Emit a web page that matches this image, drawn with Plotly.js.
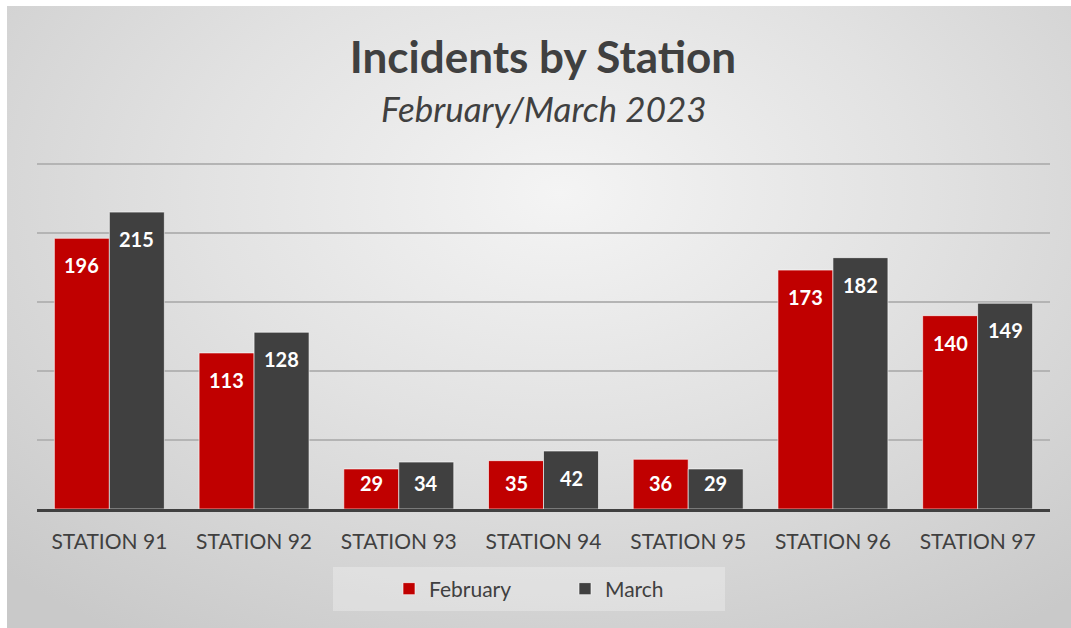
<!DOCTYPE html>
<html>
<head>
<meta charset="utf-8">
<script src="https://cdn.plot.ly/plotly-3.0.1.min.js"></script>
<style>
  html, body { margin: 0; padding: 0; background: #ffffff; }
  #wrap { position: absolute; left: 7px; top: 6px; width: 1064px; height: 622px;
          background: radial-gradient(ellipse 75% 85% at 52% 30%, #f4f4f4 0%, #e2e2e2 45%, #c9c9c9 100%); }
  #chart { position: absolute; left: -7px; top: -6px; width: 1071px; height: 628px; }
</style>
</head>
<body>
<div id="wrap"><div id="chart"></div></div>
<script>
const stations = ["STATION 91", "STATION 92", "STATION 93", "STATION 94", "STATION 95", "STATION 96", "STATION 97"];
const february = [196, 113, 29, 35, 36, 173, 140];
const march = [215, 128, 34, 42, 29, 182, 149];
const seriesNames = ["February", "March"];
const colors = ["#c00000", "#404040"];

const FONT = "Lato, 'Open Sans', sans-serif";
const yTop = 252;            // axis range top (gridline at 250 stays visible)
const plotBottom = 509;      // px
const plotTop = 161;         // px
const plotH = plotBottom - plotTop;
const pxPerUnit = plotH / yTop;
const bargap = 0.24;
const barOffset = (1 - bargap) / 4;   // centre of each bar within its group

const traces = [february, march].map((vals, i) => ({
  type: "bar",
  name: seriesNames[i],
  x: stations,
  y: vals,
  marker: { color: colors[i], line: { color: "rgba(255,255,255,0.6)", width: 1 } },
  hoverinfo: "skip"
}));

// data labels: white bold text near the inside top of each bar
const labels = [];
[february, march].forEach((vals, s) => {
  vals.forEach((v, i) => {
    labels.push({
      xref: "x", yref: "y",
      x: i + (s === 0 ? -barOffset : barOffset),
      y: v,
      yanchor: "middle", xanchor: "center",
      yshift: -Math.min(27, v * pxPerUnit - 26),
      text: "<b>" + v + "</b>",
      showarrow: false,
      font: { family: FONT, size: 20, color: "#ffffff" }
    });
  });
});

const layout = {
  width: 1071,
  height: 628,
  paper_bgcolor: "rgba(0,0,0,0)",
  plot_bgcolor: "rgba(0,0,0,0)",
  margin: { l: 37, r: 21, t: plotTop, b: 628 - plotBottom, pad: 0 },
  barmode: "group",
  bargap: bargap,
  bargroupgap: 0,
  font: { family: FONT, color: "#404040" },
  title: {
    text: "<b>Incidents by Station</b>",
    font: { family: FONT, size: 44, color: "#404040" },
    x: 0.507, xanchor: "center",
    yref: "container", y: 1 - 58 / 628, yanchor: "middle"
  },
  annotations: [{
    text: "<i>February/March 2023</i>",
    xref: "paper", yref: "paper",
    x: 0.5, y: (plotBottom - 108) / plotH,
    xanchor: "center", yanchor: "middle",
    showarrow: false,
    font: { family: FONT, size: 35, color: "#404040" }
  }].concat(labels),
  xaxis: {
    type: "category",
    showgrid: false,
    zeroline: false,
    showline: true,
    linecolor: "#404040",
    linewidth: 3,
    ticks: "outside",
    ticklen: 12,
    tickcolor: "rgba(0,0,0,0)",
    tickfont: { family: FONT, size: 21, color: "#404040" }
  },
  yaxis: {
    range: [0, yTop],
    tickmode: "linear",
    tick0: 0,
    dtick: 50,
    showticklabels: false,
    showgrid: true,
    gridcolor: "#b4b4b4",
    gridwidth: 1.5,
    zeroline: false,
    showline: false,
    fixedrange: true
  },
  shapes: [{
    type: "rect", xref: "paper", yref: "paper",
    x0: (333 - 37) / 1013, x1: (725 - 37) / 1013,
    y0: (plotBottom - 567) / plotH, y1: (plotBottom - 611) / plotH,
    fillcolor: "rgba(255,255,255,0.28)", line: { width: 0 }, layer: "below"
  }],
  showlegend: true,
  legend: {
    orientation: "h",
    x: (389 - 37) / 1013, xanchor: "left",
    y: (plotBottom - 589) / plotH, yanchor: "middle",
    bgcolor: "rgba(0,0,0,0)",
    font: { family: FONT, size: 21, color: "#404040" },
    itemwidth: 30,
    entrywidth: 131,
    traceorder: "normal"
  }
};

Plotly.newPlot("chart", traces, layout, { displayModeBar: false, staticPlot: true });
</script>
</body>
</html>
